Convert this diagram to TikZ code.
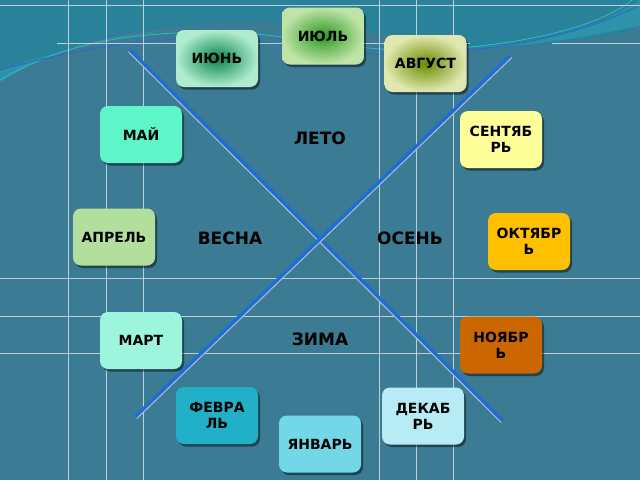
\documentclass[tikz,border=0pt]{standalone}
\usepackage{fontspec}
\setmainfont{DejaVu Sans}
\usetikzlibrary{shadows}
\definecolor{bg}{HTML}{3C7B94}
\definecolor{tealtop}{HTML}{2A819A}
\definecolor{teallight}{HTML}{2E93A8}
\definecolor{gridc}{HTML}{D4E0E6}
\definecolor{diagblue}{HTML}{1C6CDA}
\definecolor{diaggray}{HTML}{A8B8C2}
\definecolor{wblue}{HTML}{2A6CC8}
\definecolor{wcyan}{HTML}{2FB6C2}
\definecolor{cjulin}{HTML}{2A9A22}
\definecolor{cjulout}{HTML}{C0E4A8}
\definecolor{cjunin}{HTML}{08864A}
\definecolor{cjunout}{HTML}{B0ECD0}
\definecolor{caugin}{HTML}{6A8C00}
\definecolor{caugout}{HTML}{E0E8B0}
\definecolor{cmay}{HTML}{5EF5C8}
\definecolor{csep}{HTML}{FFFF99}
\definecolor{capr}{HTML}{B3DF9E}
\definecolor{coct}{HTML}{FFC000}
\definecolor{cmar}{HTML}{9EF5DE}
\definecolor{cnov}{HTML}{CC6600}
\definecolor{cfeb}{HTML}{22B0C8}
\definecolor{cjan}{HTML}{72D8E8}
\definecolor{cdec}{HTML}{B8ECF4}
\begin{document}
\begin{tikzpicture}[x=1pt,y=-1pt,
  month/.style={rounded corners=8pt, minimum width=82pt, minimum height=57pt,
    inner sep=0pt, align=center, text=black,
    font=\bfseries\fontsize{14}{16}\selectfont,
    drop shadow={shadow xshift=2pt,shadow yshift=-2.5pt,opacity=0.45,fill=black}},
  season/.style={font=\bfseries\fontsize{17}{20}\selectfont, text=black},
  gridline/.style={draw=gridc, line width=1pt, opacity=0.85},
  diagbase/.style={draw=diaggray, line width=1.6pt},
  diagtop/.style={draw=diagblue, line width=3.2pt}
]
% background
\fill[bg] (0,0) rectangle (640,480);
\useasboundingbox (0,0) rectangle (640,480);
% top wave
\fill[tealtop] (0,0) -- (640,0) -- (640,28)
  .. controls (590,40) and (540,47) .. (480,48)
  .. controls (400,45) and (370,22) .. (260,22)
  .. controls (150,22) and (60,40) .. (0,82) -- cycle;
\fill[teallight] (0,82) .. controls (40,58) and (90,34) .. (180,30)
  .. controls (120,34) and (60,50) .. (0,70) -- cycle;
\fill[teallight] (470,48) .. controls (560,42) and (610,20) .. (640,0)
  -- (640,26) .. controls (590,36) and (540,46) .. (470,48) -- cycle;
\draw[wcyan, line width=0.9pt] (0,80) .. controls (60,45) and (120,34) .. (200,32)
  .. controls (300,30) and (360,60) .. (470,47)
  .. controls (560,38) and (610,18) .. (632,0);
\draw[wblue, line width=1pt] (0,70) .. controls (100,42) and (200,30) .. (280,45)
  .. controls (360,58) and (420,55) .. (480,49)
  .. controls (560,40) and (610,20) .. (640,5);
% grid
\foreach \gx in {68,106,143,379,416,453} \draw[gridline] (\gx,0) -- (\gx,480);
\foreach \gy in {5,278,316,353} \draw[gridline] (0,\gy) -- (640,\gy);
\draw[gridline] (57,43) -- (470,43);
\draw[gridline] (552,43) -- (640,43);
% diagonals
\coordinate (d1a) at (130,50);
\coordinate (d1b) at (503,421);
\coordinate (d2a) at (135,417);
\coordinate (d2b) at (510,56);
\draw[diagbase] ([shift={(-1.6,1.4)}]d1a) -- ([shift={(-1.6,1.4)}]d1b);
\draw[diagtop] (d1a) -- (d1b);
\draw[diagbase] ([shift={(1.6,1.4)}]d2a) -- ([shift={(1.6,1.4)}]d2b);
\draw[diagtop] (d2a) -- (d2b);
% months
\node[month, shading=radial, inner color=cjulin, outer color=cjulout] (jul) at (323,36) {ИЮЛЬ};
\node[month, shading=radial, inner color=cjunin, outer color=cjunout] (jun) at (217,58.5) {ИЮНЬ};
\node[month, shading=radial, inner color=caugin, outer color=caugout] (aug) at (425.5,63.5) {АВГУСТ};
\node[month, fill=cmay] (may) at (141,134.5) {МАЙ};
\node[month, fill=csep] (sep) at (501,139.5) {СЕНТЯБ\\РЬ};
\node[month, fill=capr] (apr) at (114,237) {АПРЕЛЬ};
\node[month, fill=coct] (oct) at (529,241.5) {ОКТЯБР\\Ь};
\node[month, fill=cmar] (mar) at (141,340.5) {МАРТ};
\node[month, fill=cnov] (nov) at (501,345) {НОЯБР\\Ь};
\node[month, fill=cfeb] (feb) at (217,415.5) {ФЕВРА\\ЛЬ};
\node[month, fill=cjan] (jan) at (320,444) {ЯНВАРЬ};
\node[month, fill=cdec] (dec) at (423,416) {ДЕКАБ\\РЬ};
% seasons
\node[season] (summer) at (320,138) {ЛЕТО};
\node[season] (spring) at (230,238) {ВЕСНА};
\node[season] (autumn) at (410,238) {ОСЕНЬ};
\node[season] (winter) at (320,339) {ЗИМА};
\end{tikzpicture}
\end{document}
